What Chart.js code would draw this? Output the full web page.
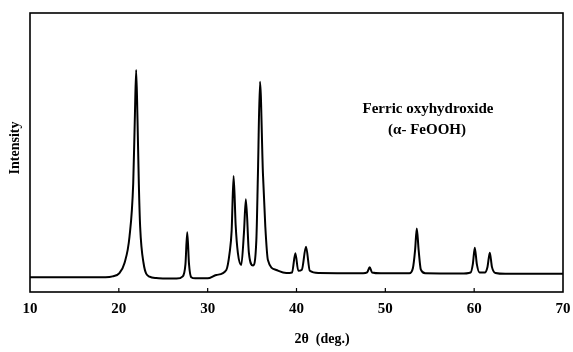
<!DOCTYPE html>
<html lang="en">
<head>
    <meta charset="UTF-8">
    <title>Ferric oxyhydroxide XRD</title>
    <script src="https://cdn.jsdelivr.net/npm/chart.js"></script>
    <style>
        body {
            margin: 0;
            background: #fff;
        }
        canvas {
            display: block;
        }
    </style>
</head>
<body>
    <canvas id="xrdChart" width="573" height="352"></canvas>
    <script>
        // 2theta positions (deg.) and intensity (arb. units) of the scan
        const twoTheta = [10, 18.5, 19.3, 20.07, 20.64, 21.2, 21.62, 21.8, 21.95, 22.1, 22.25, 22.4, 22.78, 23.45, 24.2, 25.3,
            26.5, 27.2, 27.5, 27.7, 27.9, 28.15, 28.6, 30.0, 30.97, 32.1, 32.47, 32.7, 32.92, 33.15, 33.4, 33.78,
            34.08, 34.3, 34.64, 35.1, 35.48, 35.66, 35.89, 36.22, 36.49, 36.78, 37.72, 38.85, 39.5, 39.87, 40.2,
            40.6, 41.07, 41.5, 42.5, 47.5, 47.95, 48.24, 48.5, 49.5, 52.7, 53.1, 53.35, 53.54, 53.75, 54.0, 54.5,
            58.5, 59.6, 59.85, 60.07, 60.3, 60.6, 61.2, 61.5, 61.76, 62.0, 62.4, 63.5, 70];
        const intensity = [5.3, 5.3, 5.6, 6.8, 10.4, 19.8, 39, 62, 79.6, 62, 39, 23.4, 10.4, 5.5, 5.0, 4.8,
            4.8, 5.6, 10, 21.4, 10, 5.3, 4.9, 4.9, 6.1, 7.9, 14, 22, 41.6, 24, 14, 9.7,
            21, 33.2, 14, 9.5, 18.6, 42.6, 75.4, 42.6, 23.4, 11.5, 7.9, 6.8, 7.0, 13.9, 7.6,
            8.0, 16.2, 7.6, 6.8, 6.7, 7.0, 8.9, 7.0, 6.7, 6.7, 8.5, 15, 22.8, 15, 8.0, 6.7,
            6.6, 7.0, 10, 15.9, 10, 7.0, 7.0, 9, 14.1, 9, 6.8, 6.5, 6.5];
        const xTicks = [10, 20, 30, 40, 50, 60, 70];

        const points = twoTheta.map((t, i) => ({ x: t, y: intensity[i] }));
        const serif = '"Liberation Serif", "Times New Roman", serif';

        // frame, inner tick marks and the text labels
        const decorations = {
            id: 'decorations',
            afterDraw(chart) {
                const ctx = chart.ctx;
                const area = chart.chartArea;
                const xs = chart.scales.x;
                ctx.save();
                ctx.strokeStyle = '#000';
                ctx.lineWidth = 1.6;
                ctx.strokeRect(area.left, area.top, area.right - area.left, area.bottom - area.top);

                ctx.lineWidth = 1.2;
                xTicks.slice(1, -1).forEach(v => {
                    const px = xs.getPixelForValue(v);
                    ctx.beginPath();
                    ctx.moveTo(px, area.bottom);
                    ctx.lineTo(px, area.bottom - 4);
                    ctx.stroke();
                });

                ctx.fillStyle = '#000';
                ctx.textAlign = 'center';
                ctx.textBaseline = 'middle';
                ctx.font = 'bold 15px ' + serif;
                ctx.fillText('Ferric oxyhydroxide', 428, 109);
                ctx.fillText('(\u03b1- FeOOH)', 427, 130);

                ctx.font = 'bold 14px ' + serif;
                ctx.fillText('2\u03b8  (deg.)', 322, 339);

                ctx.translate(15, 148);
                ctx.rotate(-Math.PI / 2);
                ctx.fillText('Intensity', 0, 0);
                ctx.restore();
            }
        };

        const ctx = document.getElementById('xrdChart').getContext('2d');
        new Chart(ctx, {
            type: 'line',
            data: {
                datasets: [{
                    data: points,
                    borderColor: '#000',
                    borderWidth: 2,
                    pointRadius: 0,
                    cubicInterpolationMode: 'monotone',
                    fill: false
                }]
            },
            options: {
                responsive: false,
                animation: false,
                layout: {
                    padding: { left: 30, right: 0, top: 13, bottom: 0 }
                },
                plugins: {
                    legend: { display: false },
                    tooltip: { enabled: false }
                },
                scales: {
                    x: {
                        type: 'linear',
                        min: 10,
                        max: 70,
                        afterFit: scale => {
                            scale.height = 60;
                            scale.paddingRight = 10;
                        },
                        afterBuildTicks: scale => {
                            scale.ticks = xTicks.map(v => ({ value: v }));
                        },
                        grid: { display: false, drawTicks: false },
                        border: { display: false },
                        ticks: {
                            padding: 8,
                            color: '#000',
                            font: { family: serif, size: 15, weight: 'bold' }
                        }
                    },
                    y: {
                        display: false,
                        min: 0,
                        max: 100
                    }
                }
            },
            plugins: [decorations]
        });
    </script>
</body>
</html>
